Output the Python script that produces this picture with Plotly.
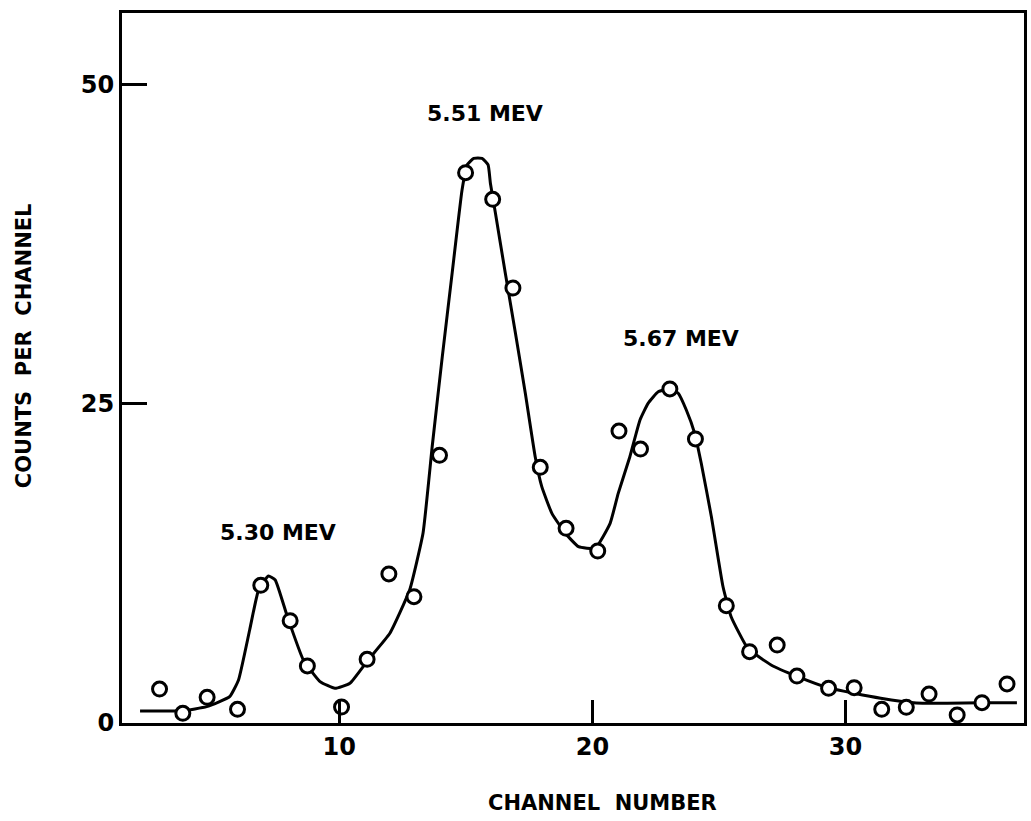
import plotly.graph_objects as go

# Measured data points (channel number, counts per channel)
channel = [2.90, 3.82, 4.78, 5.98, 6.90, 8.06, 8.74, 10.09, 11.10, 11.96,
           12.95, 13.96, 14.99, 16.06, 16.86, 17.94, 18.96, 20.21, 21.05, 21.90,
           23.06, 24.07, 25.29, 26.21, 27.30, 28.08, 29.33, 30.34, 31.43, 32.40,
           33.30, 34.41, 35.39, 36.38]
counts = [2.66, 0.76, 2.01, 1.07, 10.79, 8.02, 4.47, 1.25, 4.99, 11.68,
          9.90, 20.98, 43.13, 41.04, 34.09, 20.04, 15.26, 13.48, 22.88, 21.47,
          26.18, 22.26, 9.19, 5.59, 6.11, 3.68, 2.72, 2.77, 1.07, 1.23,
          2.27, 0.63, 1.59, 3.06]

# Hand-drawn fitted curve
fit_channel = [2.13, 3.82, 4.76, 5.67, 6.02, 6.46, 6.81, 7.20, 7.47, 7.95,
               8.58, 9.24, 9.83, 10.42, 11.14, 12.00, 12.78, 13.31, 13.67, 14.07,
               14.46, 14.85, 15.05, 15.31, 15.64, 15.88, 15.97, 16.17, 16.56, 16.96,
               17.35, 17.74, 18.00, 18.40, 18.93, 19.45, 20.11, 20.70, 21.02, 21.48,
               21.88, 22.20, 22.60, 23.06, 23.39, 23.71, 24.04, 24.30, 24.70, 25.16,
               25.48, 26.14, 27.06, 28.11, 29.29, 30.34, 31.39, 32.70, 34.02, 35.39,
               36.77]
fit_counts = [0.94, 0.96, 1.28, 2.06, 3.37, 7.29, 10.42, 11.52, 11.21, 8.33,
              4.94, 3.24, 2.72, 3.11, 4.94, 7.03, 10.42, 14.89, 21.65, 28.71,
              35.27, 41.77, 43.73, 44.25, 44.25, 43.73, 42.30, 39.95, 35.24, 30.54,
              25.84, 20.87, 18.52, 16.43, 14.87, 13.82, 13.69, 15.65, 18.00, 20.87,
              23.75, 25.05, 25.96, 26.18, 25.84, 24.53, 22.70, 20.35, 16.17, 10.68,
              8.33, 5.85, 4.55, 3.63, 2.77, 2.33, 1.94, 1.59, 1.54, 1.59,
              1.59]

peak_labels = ["5.30 MEV", "5.51 MEV", "5.67 MEV"]
peak_x = [7.56, 15.75, 23.50]
peak_y = [14.89, 47.8, 30.17]

x_ticks = [10, 20, 30]
y_ticks = [0, 25, 50]

FONT = "DejaVu Sans"

fig = go.Figure()
fig.add_trace(go.Scatter(
    x=fit_channel, y=fit_counts, mode="lines",
    line=dict(color="black", width=3, shape="spline", smoothing=0.4),
    hoverinfo="skip", showlegend=False))
fig.add_trace(go.Scatter(
    x=channel, y=counts, mode="markers",
    marker=dict(symbol="circle", size=14, color="white",
                line=dict(color="black", width=3)),
    showlegend=False))

for t, xx, yy in zip(peak_labels, peak_x, peak_y):
    fig.add_annotation(x=xx, y=yy, text=t, showarrow=False,
                       xanchor="center", yanchor="middle",
                       font=dict(family=FONT, size=22, color="black", weight="bold"))

fig.add_annotation(xref="paper", yref="paper", x=0.5326, y=-0.1127,
                   xanchor="center", yanchor="middle",
                   text="CHANNEL\u00a0 NUMBER", showarrow=False,
                   font=dict(family=FONT, size=21, color="black", weight="bold"))
fig.add_annotation(xref="paper", yref="paper", x=-0.1088, y=0.532,
                   xanchor="center", yanchor="middle",
                   text="COUNTS\u00a0 PER\u00a0 CHANNEL", showarrow=False, textangle=-90,
                   font=dict(family=FONT, size=21, color="black", weight="bold"))

axis_common = dict(showline=True, linewidth=3, linecolor="black", mirror=True,
                   ticks="inside", tickwidth=2.5, tickcolor="black",
                   showgrid=False, zeroline=False,
                   tickfont=dict(family=FONT, size=24, color="black", weight="bold"))

fig.update_layout(
    width=1031, height=821,
    margin=dict(l=122, r=4, t=13, b=98),
    paper_bgcolor="white", plot_bgcolor="white",
    xaxis=dict(range=[1.417, 37.05], tickvals=x_ticks, ticklen=23, **axis_common),
    yaxis=dict(range=[0, 55.64], tickvals=y_ticks, ticklen=25, **axis_common),
)

fig.write_html("out.html")
